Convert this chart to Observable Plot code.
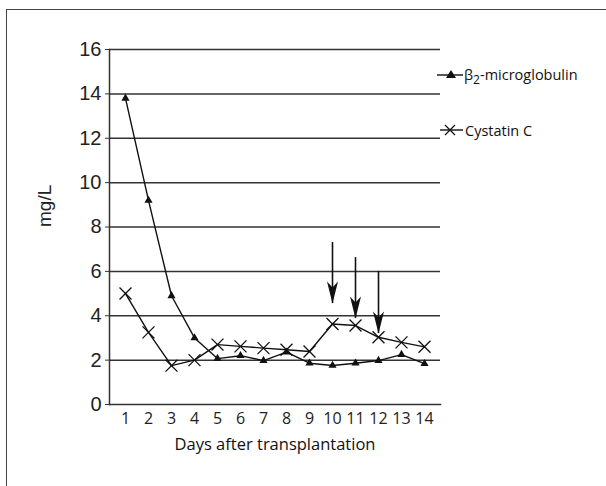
<!DOCTYPE html>
<html><head><meta charset="utf-8">
<script src="https://cdn.jsdelivr.net/npm/d3@7"></script>
<script src="https://cdn.jsdelivr.net/npm/@observablehq/plot@0.6"></script>
<style>
body{margin:0;background:#fff;}
#wrap{position:relative;width:606px;height:486px;overflow:hidden;background:#fff;}
#frame{position:absolute;left:6px;top:9px;width:640px;height:520px;border:1.5px solid #444;box-sizing:border-box}
#chart{position:absolute;left:0;top:0}
.leg{position:absolute;font-family:"Open Sans",sans-serif;font-size:14.5px;line-height:18px;color:#111;white-space:nowrap}
.leg svg{position:absolute;}
</style></head><body>
<div id="wrap"><div id="frame"></div><div id="chart"></div>
<div class="leg" id="leg1" style="left:436px;top:66px"></div>
<div class="leg" id="leg2" style="left:436px;top:122px"></div>
</div>
<script>
const days = [1,2,3,4,5,6,7,8,9,10,11,12,13,14];
const b2m  = [13.8, 9.2, 4.9, 3.0, 2.07, 2.2, 1.98, 2.36, 1.86, 1.76, 1.86, 1.98, 2.25, 1.84];
const cysC = [5.0, 3.25, 1.75, 2.0, 2.7, 2.62, 2.54, 2.47, 2.39, 3.63, 3.56, 3.03, 2.8, 2.6];
const arrowDays = [10, 11, 12];
const arrowTop  = [7.3, 6.62, 6.0];
const arrowTip  = [4.55, 3.88, 3.2];
const yTicks = [0, 2, 4, 6, 8, 10, 12, 14, 16];
const gridTicks = [2, 4, 6, 8, 10, 12, 14, 16];
const seriesNames = ["β<sub>2</sub>-microglobulin", "Cystatin C"];
const xTitle = "Days after transplantation";
const yTitle = "mg/L";

const rows = days.map((d, i) => ({day: d, b2m: b2m[i], cys: cysC[i]}));
const arrows = arrowDays.map((d, i) => ({day: d, top: arrowTop[i], tip: arrowTip[i]}));

const arrowHead = {
  draw(ctx, size) {
    ctx.moveTo(0, 0);
    ctx.lineTo(-5.5, -22);
    ctx.lineTo(0, -16);
    ctx.lineTo(5.5, -22);
    ctx.closePath();
  }
};

const chart = Plot.plot({
  width: 606,
  height: 486,
  marginLeft: 109,
  marginRight: 166,
  marginTop: 49,
  marginBottom: 82,
  style: {background: "transparent", overflow: "visible"},
  x: {type: "point", domain: days, padding: 0.5, label: null},
  y: {domain: [0, 16], label: null},
  marks: [
    Plot.gridY(gridTicks, {stroke: "#333", strokeOpacity: 1, strokeWidth: 1.5}),
    Plot.frame({anchor: "left", stroke: "#333", strokeWidth: 1.5}),
    Plot.frame({anchor: "bottom", stroke: "#333", strokeWidth: 1.5}),
    Plot.axisY(yTicks, {tickSize: 4, tickPadding: 4, fontSize: 20, fontFamily: "Liberation Sans", fill: "#222", stroke: "#333", label: null}),
    Plot.axisX({tickSize: 0, tickPadding: 8, fontSize: 16, fontFamily: "Open Sans", fill: "#222", label: null}),
    Plot.text([xTitle], {frameAnchor: "bottom", dy: 45, fontSize: 16.5, fontFamily: "Open Sans", fill: "#111"}),
    Plot.text([yTitle], {frameAnchor: "left", rotate: -90, dx: -65, fontSize: 19, fontFamily: "Liberation Sans", fill: "#222"}),
    Plot.line(rows, {x: "day", y: "cys", stroke: "#111", strokeWidth: 1.4}),
    Plot.line(rows, {x: "day", y: "b2m", stroke: "#111", strokeWidth: 1.4}),
    Plot.dot(rows, {x: "day", y: "cys", symbol: "times", r: 5.5, stroke: "#111", strokeWidth: 1.3}),
    Plot.dot(rows, {x: "day", y: "b2m", symbol: "triangle2", r: 3.9, fill: "#111", stroke: "none"}),
    Plot.ruleX(arrows, {x: "day", y1: "tip", y2: "top", stroke: "#111", strokeWidth: 1.6}),
    Plot.dot(arrows, {x: "day", y: "tip", symbol: arrowHead, r: 3, fill: "#111", stroke: "none"})
  ]
});
document.getElementById("chart").append(chart);

// legend
const l1 = document.getElementById("leg1");
l1.innerHTML = `<svg width="28" height="18" style="left:0;top:0"><line x1="1" y1="9" x2="27" y2="9" stroke="#111" stroke-width="1.4"/><path d="M15,4 L20,12 L10,12 Z" fill="#111"/></svg><span style="margin-left:28px">${seriesNames[0]}</span>`;
const l2 = document.getElementById("leg2");
l2.innerHTML = `<svg width="28" height="18" style="left:0;top:0"><line x1="4" y1="8" x2="27" y2="8" stroke="#111" stroke-width="1.4"/><path d="M9,3 L19,13 M19,3 L9,13" stroke="#111" stroke-width="1.3"/></svg><span style="margin-left:29px">${seriesNames[1]}</span>`;
</script>
</body></html>
